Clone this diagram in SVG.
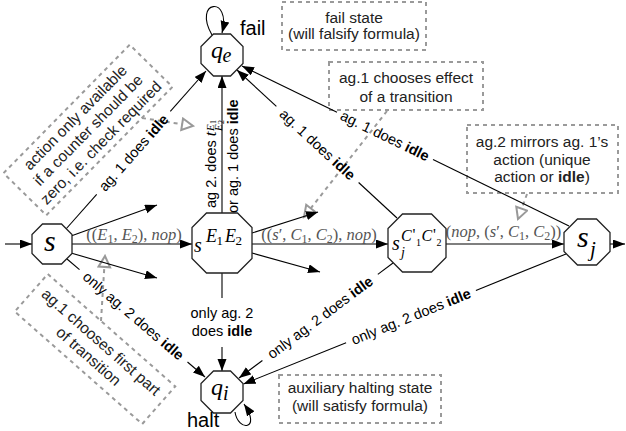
<svg xmlns="http://www.w3.org/2000/svg" width="626" height="431" viewBox="0 0 626 431">
<defs>
<marker id="arr" markerUnits="userSpaceOnUse" markerWidth="13" markerHeight="10" refX="12" refY="4.5" orient="auto"><path d="M0,0 L12,4.5 L0,9 z" fill="#000"/></marker>
<marker id="hol" markerUnits="userSpaceOnUse" markerWidth="15" markerHeight="15" refX="12.5" refY="7" orient="auto"><path d="M1.5,1.2 L12.5,7 L1.5,12.8 z" fill="#fff" stroke="#999" stroke-width="2"/></marker>
</defs>
<style>
.node{fill:#fff;stroke:#222;stroke-width:1.3}
.e{fill:none;stroke:#000;stroke-width:1.1}
.ea{fill:none;stroke:#000;stroke-width:1.1;marker-end:url(#arr)}
.box{fill:none;stroke:#9a9a9a;stroke-width:2;stroke-dasharray:4 4}
.ptr{fill:none;stroke:#9a9a9a;stroke-width:2;stroke-dasharray:4 4;marker-end:url(#hol)}
text{font-family:"Liberation Sans",Arial,sans-serif}
.lbl{font-size:14.5px;fill:#000}
.ann{font-size:15.5px;fill:#222;text-anchor:middle}
.big{font-size:20px;fill:#000}
.m{font-family:"Liberation Serif","Times New Roman",serif;font-style:italic;fill:#000}
.ml{font-family:"Liberation Serif","Times New Roman",serif;font-size:16.5px;fill:#555}
.i{font-style:italic}
.b{font-weight:bold}
</style>

<g id="notes">
<g id="note-fail"><rect class="box" x="282" y="2" width="144" height="48"/><text class="ann" x="354" y="22.5">fail state</text><text class="ann" x="354" y="39">(will falsify formula)</text></g>
<g id="note-effect"><rect class="box" x="329" y="62" width="154" height="48"/><text class="ann" x="406" y="83">ag.1 chooses effect</text><text class="ann" x="406" y="101.5">of a transition</text><path class="ptr" d="M387,111 L304,217"/></g>
<g id="note-mirror"><rect class="box" x="467" y="125" width="151" height="68"/><text class="ann" x="542" y="147">ag.2 mirrors ag. 1’s</text><text class="ann" x="542" y="164.5">action (unique</text><text class="ann" x="542" y="182">action or <tspan class="b">idle</tspan>)</text><path class="ptr" d="M527,194 L518,219"/></g>
<g id="note-halt"><rect class="box" x="279" y="375" width="162" height="48"/><text class="ann" x="360" y="393">auxiliary halting state</text><text class="ann" x="360" y="411">(will satisfy formula)</text></g>
<g id="note-check"><g transform="translate(88,130) rotate(-45.5)"><rect class="box" x="-90" y="-30" width="180" height="60"/><text class="ann" x="0" y="-12.6">action only available</text><text class="ann" x="0" y="5.4">if a counter should be</text><text class="ann" x="0" y="23.4">zero, i.e. check required</text></g><path class="ptr" d="M142,118 L193,126"/></g>
<g id="note-first"><g transform="translate(95,349) rotate(41.4)"><rect class="box" x="-85" y="-25" width="170" height="50"/><text class="ann" x="0" y="-4">ag.1 chooses first part</text><text class="ann" x="0" y="15">of transition</text></g><path class="ptr" d="M101,321 L105,256"/></g>
</g>

<g id="edges">
<path class="ea" d="M5,244 L32,244"/>
<path class="ea" d="M72,244 L192,244"/>
<path class="ea" d="M71,236 L157,205"/>
<path class="ea" d="M71,253 L157,278"/>
<path class="e" d="M66,229 L96.7,194.4"/><path class="ea" d="M170.3,111.3 L206,71"/>
<path class="e" d="M67,259 L79.5,269.7"/><path class="ea" d="M187.5,362 L205,377"/>
<path class="ea" d="M222,213 L222,76"/>
<path class="e" d="M222,273 L222,298"/><path class="ea" d="M222,347 L222,371"/>
<path class="ea" d="M252,233 L318,212"/>
<path class="ea" d="M252,244 L388,244"/>
<path class="ea" d="M252,253 L320,272"/>
<path class="e" d="M397,218 L358.6,182.5"/><path class="ea" d="M276.4,106.4 L237,70"/>
<path class="e" d="M393,263 L377.8,274.4"/><path class="ea" d="M262.4,360.5 L239,378"/>
<path class="ea" d="M446,244 L564,244"/>
<path class="ea" d="M610,244 L625,244"/>
<path class="e" d="M569,226 L433,159.4"/><path class="ea" d="M337,112.3 L242,66"/>
<path class="e" d="M566,254 L475.9,290.4"/><path class="ea" d="M346.1,342.7 L243.5,384"/>
<path class="ea" d="M212,35 C192,0 232,-5 222,33"/>
<path class="ea" d="M235,412 C238,432 262,430 244,404"/>

<g transform="translate(133.5,152.8) rotate(-48.4)"><text class="lbl" x="0" y="5" text-anchor="middle">ag. 1 does <tspan class="b">idle</tspan></text></g>
<g transform="translate(133.5,315.9) rotate(40.5)"><text class="lbl" x="0" y="5" text-anchor="middle">only ag. 2 does <tspan class="b">idle</tspan></text></g>
<g transform="translate(317.5,144.5) rotate(42.8)"><text class="lbl" x="0" y="5" text-anchor="middle">ag. 1 does <tspan class="b">idle</tspan></text></g>
<g transform="translate(385,135.8) rotate(26.1)"><text class="lbl" x="0" y="5" text-anchor="middle">ag. 1 does <tspan class="b">idle</tspan></text></g>
<g transform="translate(320.1,317.4) rotate(-36.7)"><text class="lbl" x="0" y="5" text-anchor="middle">only ag. 2 does <tspan class="b">idle</tspan></text></g>
<g transform="translate(411,316.5) rotate(-22)"><text class="lbl" x="0" y="5" text-anchor="middle">only ag. 2 does <tspan class="b">idle</tspan></text></g>
<text class="lbl" x="222" y="318" text-anchor="middle">only ag. 2</text>
<text class="lbl" x="222" y="336" text-anchor="middle">does <tspan class="b">idle</tspan></text>
<g transform="translate(216,208) rotate(-90)"><text class="lbl" x="0" y="0">ag 2. does <tspan class="m" font-size="17">t</tspan></text><text class="m" font-size="11" x="77" y="-2">E<tspan font-size="8" font-style="normal" x="84" y="0">1</tspan></text><text class="m" font-size="11" x="77" y="6">E<tspan font-size="8" font-style="normal" x="84" y="8">2</tspan></text></g>
<g transform="translate(238,213) rotate(-90)"><text class="lbl" x="0" y="0">or ag. 1 does <tspan class="b">idle</tspan></text></g>

<text class="ml" x="134" y="240" text-anchor="middle">((<tspan class="i">E</tspan><tspan font-size="12" dy="3">1</tspan><tspan dy="-3">, </tspan><tspan class="i">E</tspan><tspan font-size="12" dy="3">2</tspan><tspan dy="-3">), </tspan><tspan class="i">nop</tspan>)</text>
<text class="ml" x="319" y="240" text-anchor="middle">((<tspan class="i">s</tspan>′, <tspan class="i">C</tspan><tspan font-size="12" dy="3">1</tspan><tspan dy="-3">, </tspan><tspan class="i">C</tspan><tspan font-size="12" dy="3">2</tspan><tspan dy="-3">), </tspan><tspan class="i">nop</tspan>)</text>
<text class="ml" x="503.5" y="237" text-anchor="middle">(<tspan class="i">nop</tspan>, (<tspan class="i">s</tspan>′, <tspan class="i">C</tspan><tspan font-size="12" dy="3">1</tspan><tspan dy="-3">, </tspan><tspan class="i">C</tspan><tspan font-size="12" dy="3">2</tspan><tspan dy="-3">))</tspan></text>
</g>

<g id="node-s"><path class="node" d="M42.5,224 L61.5,224 L72,234.5 L72,253.5 L61.5,264 L42.5,264 L32,253.5 L32,234.5 Z"/><text class="m" x="44" y="251" font-size="30">s</text></g>
<g id="node-sE"><path class="node" d="M206.5,213 L237.5,213 L252,227.5 L252,258.5 L237.5,273 L206.5,273 L192,258.5 L192,227.5 Z"/><text class="m" x="194" y="252" font-size="20">s</text><text class="m" font-size="18" x="206" y="242">E<tspan font-size="13" font-style="normal" x="216.5" y="245">1</tspan><tspan x="225" y="242">E</tspan><tspan font-size="13" font-style="normal" x="235.5" y="245">2</tspan></text></g>
<g id="node-sjC"><path class="node" d="M402.5,214 L431.5,214 L446,228.5 L446,257.5 L431.5,272 L402.5,272 L388,257.5 L388,228.5 Z"/><text class="m" x="392" y="250" font-size="20">s</text><text class="m" x="401" y="257" font-size="14">j</text><text class="m" font-size="16" x="401" y="241">C<tspan font-size="16" font-style="normal" x="412.5" y="240">'</tspan><tspan font-size="10" font-style="normal" x="416" y="246">1</tspan><tspan x="421.5" y="241">C</tspan><tspan font-size="16" font-style="normal" x="433" y="240">'</tspan><tspan font-size="10" font-style="normal" x="436.5" y="246">2</tspan></text></g>
<g id="node-sj"><path class="node" d="M577.5,219 L596.5,219 L610,232.5 L610,251.5 L596.5,265 L577.5,265 L564,251.5 L564,232.5 Z"/><text class="m" x="577" y="247" font-size="30">s</text><text class="m" x="590" y="256" font-size="21">j</text></g>
<g id="node-qe"><path class="node" d="M213.5,34 L230.5,34 L243,46.5 L243,63.5 L230.5,76 L213.5,76 L201,63.5 L201,46.5 Z"/><text class="m" x="211" y="58" font-size="24">q</text><text class="m" x="222.5" y="62" font-size="20">e</text><text class="big" x="240" y="35">fail</text></g>
<g id="node-qi"><path class="node" d="M213.5,371 L230.5,371 L243,383.5 L243,400.5 L230.5,413 L213.5,413 L201,400.5 L201,383.5 Z"/><text class="m" x="211" y="395" font-size="24">q</text><text class="m" x="223" y="400" font-size="20">i</text><text class="big" x="187" y="427">halt</text></g>
</svg>
